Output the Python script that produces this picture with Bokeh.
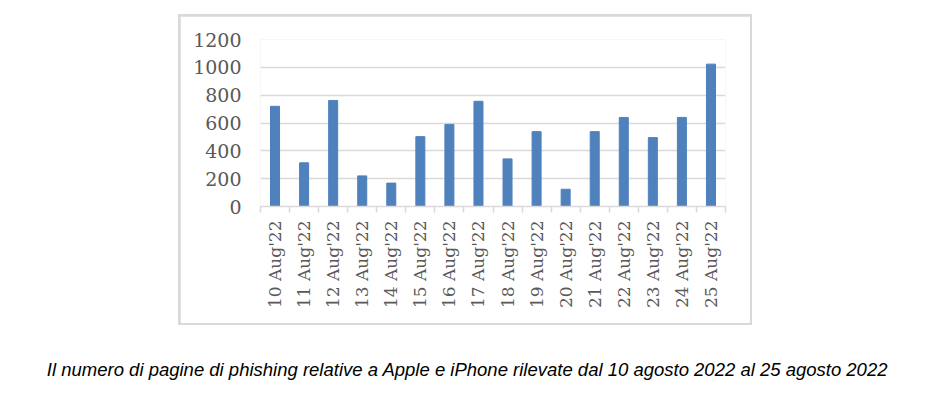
import math
from bokeh.plotting import figure
from bokeh.layouts import column
from bokeh.models import Range1d, FixedTicker
from bokeh.embed import file_html
from bokeh.resources import INLINE
from bokeh.core.properties import value

dates = ["10 Aug'22", "11 Aug'22", "12 Aug'22", "13 Aug'22", "14 Aug'22", "15 Aug'22",
         "16 Aug'22", "17 Aug'22", "18 Aug'22", "19 Aug'22", "20 Aug'22", "21 Aug'22",
         "22 Aug'22", "23 Aug'22", "24 Aug'22", "25 Aug'22"]
pages = [720, 314, 762, 220, 168, 502, 590, 756, 342, 538, 124, 538, 640, 495, 640, 1023]
y_ticks = [0, 200, 400, 600, 800, 1000, 1200]
caption = ["Il numero di pagine di phishing relative a Apple e iPhone rilevate dal 10 agosto 2022 al 25 agosto 2022"]

n = len(dates)
idx = list(range(n))

p = figure(width=570, height=307, output_backend="svg", toolbar_location=None,
           x_range=Range1d(-0.5, n - 0.5), y_range=Range1d(0, 1200),
           min_border_left=80, min_border_right=25, min_border_top=23, min_border_bottom=117,
           margin=(2, 2, 2, 2))
p.outline_line_color = None
p.background_fill_color = "white"
p.border_fill_color = "white"

p.vbar(x=idx, top=pages, width=0.31, color="#4f81bd")

# x axis
xa = p.xaxis[0]
xa.ticker = FixedTicker(ticks=idx, minor_ticks=[i - 0.5 for i in range(n + 1)])
xa.major_label_overrides = {i: d for i, d in zip(idx, dates)}
xa.major_label_orientation = math.pi / 2
xa.major_tick_out = 0
xa.major_tick_in = 0
xa.minor_tick_out = 6
xa.minor_tick_in = 0
xa.minor_tick_line_color = "#d9d9d9"
xa.minor_tick_line_width = 1.5
xa.axis_line_color = "#d9d9d9"
xa.axis_line_width = 1.5
xa.major_label_text_font = "DejaVu Serif"
xa.major_label_text_font_size = "17px"
xa.major_label_text_color = "#595959"
xa.major_label_standoff = 8

# y axis
ya = p.yaxis[0]
ya.ticker = FixedTicker(ticks=y_ticks)
ya.axis_line_color = None
ya.major_tick_line_color = None
ya.major_tick_out = 0
ya.major_tick_in = 0
ya.minor_tick_line_color = None
ya.major_label_text_font = "DejaVu Serif"
ya.major_label_text_font_size = "19px"
ya.major_label_text_color = "#595959"
ya.major_label_standoff = 19

p.xgrid.grid_line_color = None
p.ygrid.ticker = FixedTicker(ticks=y_ticks)
p.ygrid.grid_line_color = "#d9d9d9"
p.ygrid.grid_line_width = 1.5

box = column(p, spacing=0, margin=(14, 0, 0, 178),
             styles={"background-color": "#d9d9d9"})

# caption
c = figure(width=928, height=70, output_backend="svg", toolbar_location=None,
           x_range=Range1d(0, 928), y_range=Range1d(70, 0),
           x_axis_location=None, y_axis_location=None,
           min_border=0, min_border_left=0, min_border_right=0,
           min_border_top=0, min_border_bottom=0)
c.outline_line_color = None
c.grid.grid_line_color = None
c.text(x=[467], y=[44], text=caption, text_font=value("Liberation Sans"),
       text_font_style="italic", text_font_size="18.5px", text_align="center",
       text_baseline="alphabetic", text_color="black")

layout = column(box, c, spacing=0)
open("out.html", "w").write(file_html(layout, INLINE))
